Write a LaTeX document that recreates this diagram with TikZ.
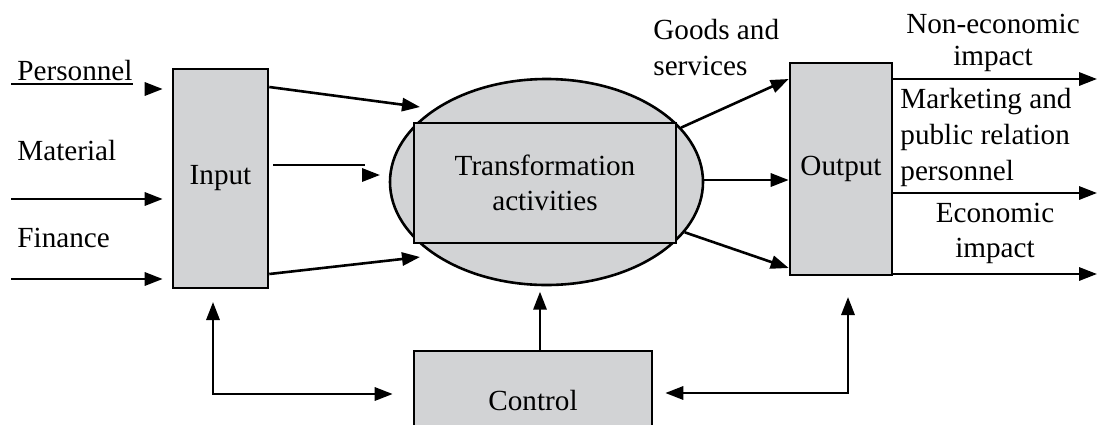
\documentclass[tikz,border=0pt]{standalone}
\usepackage{fontspec}
\setmainfont{Liberation Serif}
\usetikzlibrary{shapes.geometric,arrows.meta}

\definecolor{boxgray}{RGB}{210,211,213}
\tikzset{
  txt/.style={inner sep=0pt, font=\fontsize{14.6}{18}\selectfont},
  unit/.style={draw, fill=boxgray, line width=1.3pt, inner sep=0pt, txt},
  flow/.style={line width=1.3pt, -{Triangle[length=9pt,width=6.6pt]}},
  twoway/.style={line width=1.3pt, {Triangle[length=9pt,width=6.6pt]}-{Triangle[length=9pt,width=6.6pt]}},
}

\begin{document}
\begin{tikzpicture}[x=0.5pt, y=-0.5pt]
    \clip (0,0) rectangle (1097,424);
    % blocks
    \node[unit, minimum width=47.5pt, minimum height=109.5pt] (input) at (220.5,178.5) {Input};
    \node[unit, ellipse, minimum width=156.5pt, minimum height=103pt] (trans) at (546.5,182) {};
    \node[unit, minimum width=131pt, minimum height=60pt, align=center,
          font=\fontsize{14.6}{17.5}\selectfont] (act) at (545,183) {Transformation\\activities};
    \node[unit, minimum width=51pt, minimum height=106pt] (output) at (841,169) {Output};
    \node[unit, minimum width=119pt, minimum height=50pt] (control) at (533,401) {Control};

    % labels (base = last line)
    \node[txt, anchor=base west] (pers) at (17,80) {Personnel};
    \node[txt, anchor=base west] (mat) at (17,160) {Material};
    \node[txt, anchor=base west] (fin) at (17,247) {Finance};
    \node[txt, anchor=base west, align=left] (goods) at (653,75) {Goods and\\services};
    \node[txt, anchor=base, align=center, font=\fontsize{14.6}{16}\selectfont] (noneco) at (993,65) {Non-economic\\impact};
    \node[txt, anchor=base west, align=left] (mkt) at (900,180) {Marketing and\\public relation\\personnel};
    \node[txt, anchor=base, align=center, font=\fontsize{14.6}{17.5}\selectfont] (eco) at (995,257) {Economic\\impact};

    % free ends
    \coordinate (pin) at (147,89);
    \coordinate (matin) at (11,199);
    \coordinate (finin) at (11,279);
    \coordinate (t1) at (420,107);
    \coordinate (t3) at (420,257);
    \coordinate (o1) at (1097,79);
    \coordinate (o2) at (1097,193);
    \coordinate (o3) at (1097,274);
    \coordinate (fbl) at (213,302);
    \coordinate (fbr) at (848,297);

    % inputs
    \draw[line width=0.9pt] ([xshift=-3pt,yshift=-2pt]pers.base west) -- ([yshift=-2pt]pers.base east);
    \draw[flow, shorten >=4.5pt] (pin) -- (pin -| input.west);
    \draw[flow, shorten >=4.5pt] (matin) -- (matin -| input.west);
    \draw[flow, shorten >=4.5pt] (finin) -- (finin -| input.west);

    % input to transformation
    \draw[flow] (input.east |- 0,87) -- (t1);
    \draw[line width=1.3pt] ([xshift=2pt]input.east |- 0,165) -- (365,165);
    \draw[flow] (362,175) -- (380,175);
    \draw[flow] (input.east |- 0,274) -- (t3);

    % transformation to output
    \draw[flow] (trans.22) -- (output.west |- 0,79);
    \draw[flow] (trans.east |- 0,180) -- (output.west |- 0,180);
    \draw[flow] (trans.-20) -- (output.west |- 0,268);

    % output to outside
    \draw[flow] (output.east |- o1) -- (o1);
    \draw[flow] (output.east |- o2) -- (o2);
    \draw[flow] (output.east |- o3) -- (o3);

    % control loops
    \draw[flow] ([xshift=3.5pt]control.north) -- ++(0,-58);
    \draw[twoway] (fbl) |- ([xshift=-10pt]control.west |- 0,394);
    \draw[twoway] (fbr) |- ([xshift=6pt]control.east |- 0,393);
\end{tikzpicture}
\end{document}
